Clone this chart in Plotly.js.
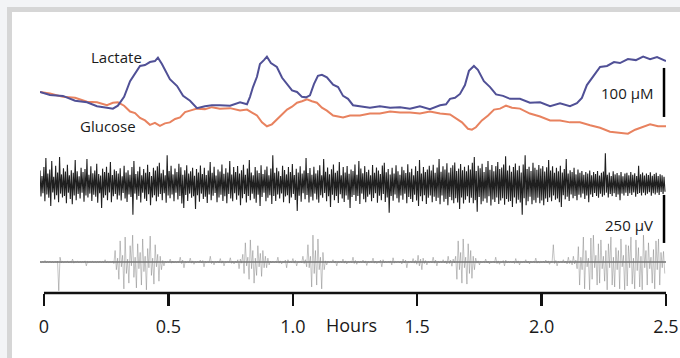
<!DOCTYPE html>
<html>
<head>
<meta charset="utf-8">
<script src="https://cdn.plot.ly/plotly-3.0.1.min.js"></script>
<style>
  html, body { margin:0; padding:0; background:#f3f4f6; width:680px; height:358px; overflow:hidden; }
  #frame { position:absolute; left:7px; top:7px; width:668px; height:346px; background:#ffffff;
           border-left:5px solid #d6d6d6; border-top:5px solid #d6d6d6; }
  #chart { position:absolute; left:0; top:0; width:680px; height:358px; }
</style>
</head>
<body>
<div id="frame"></div>
<div id="chart"></div>
<script>
// ---- Data (hours / µM / µV) ----
const tickVals = [0, 0.5, 1.0, 1.5, 2.0, 2.5];
const tickText = ["0", "0.5", "1.0", "1.5", "2.0", "2.5"];

const lactateHours = [-0.016,0.024,0.076,0.125,0.173,0.213,0.253,0.277,0.297,0.322,0.346,0.366,0.386,0.406,0.426,0.446,0.458,0.474,0.490,0.506,0.535,0.559,0.587,0.615,0.647,0.675,0.707,0.748,0.788,0.816,0.828,0.840,0.856,0.868,0.884,0.896,0.912,0.936,0.957,0.977,0.997,1.017,1.037,1.053,1.069,1.085,1.101,1.117,1.137,1.162,1.182,1.202,1.222,1.242,1.270,1.310,1.350,1.391,1.431,1.471,1.511,1.551,1.592,1.616,1.632,1.652,1.672,1.692,1.708,1.728,1.744,1.768,1.793,1.817,1.845,1.873,1.913,1.953,1.994,2.034,2.074,2.114,2.142,2.162,2.182,2.206,2.235,2.263,2.291,2.315,2.347,2.379,2.408,2.436,2.464,2.500];
const lactate = [98,92,90,80,77,69,66,64,70,88,120,135,151,153,159,161,168,155,141,124,110,90,80,65,69,71,71,70,77,73,88,108,129,155,163,170,157,149,127,114,101,98,88,87,91,114,131,133,128,113,108,90,84,71,69,66,69,66,67,64,69,63,71,73,84,86,94,112,141,151,143,120,108,93,90,84,84,76,77,69,75,69,75,86,112,129,149,151,159,157,165,163,170,165,169,161];

const glucoseHours = [-0.016,0.024,0.076,0.125,0.173,0.213,0.253,0.277,0.297,0.322,0.346,0.366,0.386,0.406,0.426,0.446,0.466,0.486,0.506,0.527,0.547,0.567,0.587,0.615,0.647,0.675,0.707,0.748,0.788,0.816,0.836,0.856,0.876,0.896,0.916,0.936,0.957,0.977,0.997,1.017,1.037,1.057,1.077,1.097,1.117,1.137,1.162,1.182,1.202,1.230,1.270,1.310,1.350,1.391,1.431,1.471,1.511,1.551,1.592,1.632,1.656,1.680,1.704,1.720,1.736,1.760,1.785,1.809,1.833,1.857,1.881,1.913,1.953,1.994,2.034,2.074,2.114,2.154,2.195,2.235,2.275,2.315,2.347,2.376,2.404,2.436,2.468,2.500];
const glucose = [98,95,88,86,78,77,71,76,77,70,58,55,45,40,31,35,29,34,36,43,46,57,60,64,63,67,64,65,60,62,56,50,36,28,32,42,52,62,68,76,79,83,79,76,66,60,50,48,46,50,50,54,54,58,56,56,54,58,54,52,44,36,23,21,26,40,50,62,64,70,66,64,54,48,40,40,36,36,30,25,17,15,13,21,26,32,28,28];

// EEG: per-bin maximum and minimum (µV), 320 bins across the recording
const eegHigh = [70,42,88,135,55,75,120,38,95,60,140,50,82,65,100,45,72,58,125,66,
40,85,62,78,130,48,92,56,70,105,52,44,80,63,90,58,115,47,76,68,
55,82,40,95,60,72,48,88,120,52,66,90,45,78,58,100,62,41,85,70,
92,110,56,74,45,150,68,95,50,80,62,105,87,48,72,98,55,66,84,43,
78,60,96,52,85,47,70,115,58,90,44,76,65,102,53,82,60,120,49,88,
63,94,55,72,100,48,81,125,60,45,88,70,57,97,52,74,91,46,80,150,
58,85,66,42,95,73,50,88,62,104,47,79,60,92,54,70,135,57,83,48,
90,55,72,98,46,130,64,86,51,77,102,58,69,115,45,88,60,94,53,75,
67,101,48,120,80,56,93,62,74,45,99,58,86,70,52,96,110,61,78,50,
84,55,97,66,48,90,72,57,103,61,79,46,92,68,125,54,88,63,75,95,
70,100,58,86,130,64,92,75,108,60,85,97,112,68,80,104,72,90,66,98,
76,110,140,68,95,82,105,62,88,120,74,99,66,93,115,78,86,101,145,70,
96,64,88,107,72,95,60,102,150,78,90,68,110,84,74,99,80,93,65,87,
125,70,92,58,84,66,95,60,78,130,54,72,63,85,50,76,58,68,48,62,
55,70,46,62,52,68,44,58,65,160,48,60,42,66,50,57,45,63,40,54,
58,45,62,48,56,42,95,50,60,44,55,47,61,43,52,58,41,50,46,38];
const eegLow = [-65,-48,-90,-55,-72,-115,-44,-80,-58,-95,-50,-70,-62,-100,-46,-78,-105,-60,-85,-52,
-75,-45,-92,-60,-70,-50,-88,-56,-66,-98,-48,-125,-72,-58,-84,-44,-95,-64,-52,-80,
-60,-86,-47,-75,-93,-55,-68,-160,-50,-82,-62,-96,-45,-77,-88,-53,-110,-70,-58,-90,
-66,-52,-85,-48,-97,-60,-74,-55,-90,-46,-80,-63,-102,-125,-57,-88,-50,-72,-64,-130,
-58,-92,-50,-78,-66,-99,-54,-84,-61,-47,-95,-70,-56,-88,-64,-100,-52,-76,-90,-48,
-82,-60,-110,-74,-52,-96,-63,-85,-50,-77,-98,-56,-115,-68,-45,-90,-72,-58,-104,-62,
-88,-54,-76,-49,-95,-65,-58,-100,-70,-52,-83,-140,-61,-92,-48,-79,-57,-96,-66,-86,
-50,-80,-97,-58,-71,-47,-90,-64,-120,-56,-85,-62,-99,-53,-76,-93,-60,-82,-125,-68,
-57,-88,-62,-104,-50,-79,-95,-66,-55,-90,-73,-48,-98,-61,-84,-52,-94,-70,-150,-63,
-87,-55,-74,-96,-60,-82,-51,-100,-67,-78,-93,-56,-86,-115,-64,-90,-58,-104,-72,-60,
-95,-66,-88,-72,-105,-60,-92,-78,-110,-68,-85,-100,-74,-96,-130,-70,-102,-82,-64,-98,
-72,-100,-84,-145,-68,-106,-90,-76,-98,-64,-112,-80,-94,-70,-104,-86,-74,-108,-78,-92,
-88,-120,-70,-102,-82,-96,-160,-74,-110,-90,-66,-105,-84,-98,-72,-100,-86,-110,-76,-94,
-70,-90,-60,-82,-75,-95,-120,-58,-80,-66,-88,-54,-74,-62,-85,-56,-70,-50,-78,-60,
-95,-55,-68,-47,-62,-72,-50,-66,-58,-45,-70,-52,-63,-48,-67,-55,-85,-50,-60,-46,
-62,-48,-57,-44,-66,-52,-47,-60,-45,-58,-50,-43,-61,-48,-55,-46,-57,-42,-52,-40];

// EMG: per-bin maximum and minimum (µV), 250 bins across the recording
const emgHigh = [3,2,8,3,4,2,3,5,25,3,2,4,3,15,2,4,3,2,6,3,2,4,3,2,4,3,12,3,2,5,
60,20,110,35,130,15,85,140,25,95,50,120,30,70,135,20,90,40,30,
8,4,3,15,5,3,2,25,10,4,3,20,6,3,4,10,8,4,3,30,5,3,5,18,6,2,3,22,4,4,12,15,
40,100,25,115,60,20,85,45,60,30,
20,5,4,3,25,6,3,10,12,4,18,8,3,5,30,12,
90,30,140,60,120,25,50,
6,4,3,12,5,3,4,15,6,2,3,25,8,4,3,10,6,3,2,20,5,3,10,12,4,3,6,22,3,4,5,15,10,3,4,18,8,35,15,20,8,3,4,25,10,4,3,12,6,30,10,15,
30,110,50,120,25,95,60,30,
20,6,4,3,15,5,3,4,25,6,3,8,10,3,4,5,18,6,3,2,12,5,4,3,20,4,3,4,10,6,3,90,8,4,3,12,5,25,8,30,10,
80,25,130,60,20,125,140,35,95,115,30,60,95,130,25,75,60,120,35,90,85,130,20,115,75,30,140,60,100,25,65,110,120,50,55];
const emgLow = [-3,-2,-4,-2,-3,-4,-2,-150,-5,-3,-2,-5,-3,-6,-2,-4,-3,-2,-20,-3,-2,-4,-3,-2,-4,-3,-5,-3,-2,-8,
-40,-90,-25,-140,-60,-110,-20,-80,-135,-35,-120,-50,-145,-30,-70,-115,-25,-100,-40,
-20,-4,-3,-6,-5,-3,-2,-8,-30,-4,-3,-6,-12,-3,-4,-5,-25,-4,-3,-8,-15,-3,-5,-6,-20,-2,-3,-7,-10,-4,-35,-6,
-60,-20,-90,-35,-110,-70,-25,-75,-30,-30,
-15,-5,-4,-3,-6,-10,-3,-30,-5,-4,-6,-20,-3,-5,-8,-25,
-30,-130,-60,-120,-40,-140,-40,
-15,-4,-3,-5,-20,-3,-4,-6,-10,-2,-3,-8,-12,-4,-3,-5,-18,-3,-2,-6,-8,-3,-25,-5,-4,-3,-15,-6,-3,-4,-10,-5,-30,-3,-4,-6,-12,-20,-40,-8,-15,-3,-4,-6,-20,-4,-3,-5,-10,-8,-22,-5,
-90,-40,-110,-30,-115,-60,-85,-40,
-6,-15,-4,-3,-5,-10,-3,-4,-8,-12,-3,-20,-5,-3,-4,-8,-6,-15,-3,-2,-5,-10,-4,-3,-6,-6,-3,-4,-5,-12,-3,-8,-20,-4,-3,-5,-10,-8,-15,-10,-35,
-120,-40,-140,-25,-145,-90,-30,-120,-110,-35,-100,-145,-30,-120,-130,-40,-140,-25,-145,-125,-30,-115,-140,-45,-130,-145,-30,-120,-35,-110,-140,-40,-120,-30,-60];

const recStart = -0.016, recEnd = 2.5;     // recording span (hours)
const scaleMetab = 100;   // µM
const scaleElec = 250;    // µV

// Build an oscillating trace from per-bin max/min: each bin visits its max, then its min
function envelopeTrace(high, low) {
  const n = high.length, dt = (recEnd - recStart) / n, x = [], y = [];
  for (let i = 0; i < n; i++) {
    x.push(recStart + i * dt); y.push(high[i]);
    x.push(recStart + (i + 0.5) * dt); y.push(low[i]);
  }
  return { x, y };
}
const eegTr = envelopeTrace(eegHigh, eegLow);
const emgTr = envelopeTrace(emgHigh, emgLow);

const traces = [
  { x: emgTr.x, y: emgTr.y, yaxis: 'y3', type: 'scatter', mode: 'lines', line: { color: 'rgba(120,120,120,0.55)', width: 0.8 }, hoverinfo: 'skip' },
  { x: eegTr.x, y: eegTr.y, yaxis: 'y2', type: 'scatter', mode: 'lines', line: { color: 'rgba(0,0,0,0.88)', width: 1.1 }, hoverinfo: 'skip' },
  { x: glucoseHours, y: glucose, yaxis: 'y', type: 'scatter', mode: 'lines', line: { color: '#e8825f', width: 2 } },
  { x: lactateHours, y: lactate, yaxis: 'y', type: 'scatter', mode: 'lines', line: { color: '#505096', width: 2 } }
];

const barX = 2.492;
const metBarBottom = 47;
const elecBarTop = -57;

const layout = {
  width: 680, height: 358,
  margin: { l: 40, r: 14, t: 40, b: 65 },
  paper_bgcolor: 'rgba(0,0,0,0)', plot_bgcolor: 'rgba(0,0,0,0)',
  showlegend: false,
  font: { family: 'Open Sans, sans-serif', color: '#1a1a1a' },
  xaxis: { range: [recStart, recEnd], tickvals: tickVals, ticktext: tickText, ticks: 'outside', ticklen: 12, tickwidth: 2.5,
           tickcolor: '#111', showline: false, showgrid: false, zeroline: false, ticklabelstandoff: 5,
           tickfont: { size: 18, color: '#1a1a1a' } },
  yaxis: { range: [-312.1, 204], visible: false },
  yaxis2: { range: [-567.7, 750], overlaying: 'y', visible: false },
  yaxis3: { range: [-161.4, 1156.2], overlaying: 'y', visible: false },
  shapes: [
    { type: 'line', xref: 'x', yref: 'paper', x0: 0, x1: 2.5, y0: 0, y1: 0, line: { color: '#111', width: 2.5 } },
    { type: 'line', xref: 'x', yref: 'y3', x0: recStart, x1: recEnd, y0: 0, y1: 0, layer: 'below', line: { color: 'rgba(90,90,90,0.85)', width: 1.5 } },
    { type: 'line', xref: 'x', yref: 'y', x0: barX, x1: barX, y0: metBarBottom, y1: metBarBottom + scaleMetab, line: { color: '#000', width: 2.5 } },
    { type: 'line', xref: 'x', yref: 'y2', x0: barX, x1: barX, y0: elecBarTop, y1: elecBarTop - scaleElec, line: { color: '#000', width: 2.5 } }
  ],
  annotations: [
    { text: 'Lactate', xref: 'x', yref: 'y', x: 0.29, y: 169, showarrow: false, font: { size: 15 } },
    { text: 'Glucose', xref: 'x', yref: 'y', x: 0.257, y: 29, showarrow: false, font: { size: 15 } },
    { text: 'EEG', xref: 'x', yref: 'y2', x: -0.028, y: 193, xanchor: 'left', showarrow: false, font: { size: 14 } },
    { text: 'EMG', xref: 'x', yref: 'y3', x: -0.028, y: 120, xanchor: 'left', showarrow: false, font: { size: 14 } },
    { text: scaleMetab + ' µM', xref: 'x', yref: 'y', x: 2.456, y: 96, xanchor: 'right', showarrow: false, font: { size: 15 } },
    { text: scaleElec + ' µV', xref: 'x', yref: 'y2', x: 2.456, y: -213, xanchor: 'right', showarrow: false, font: { size: 15 } },
    { text: 'Hours', xref: 'x', yref: 'paper', x: 1.234, y: -0.126, yanchor: 'middle', showarrow: false, font: { size: 18 } }
  ]
};

Plotly.newPlot('chart', traces, layout, { displayModeBar: false, staticPlot: true });
</script>
</body>
</html>
